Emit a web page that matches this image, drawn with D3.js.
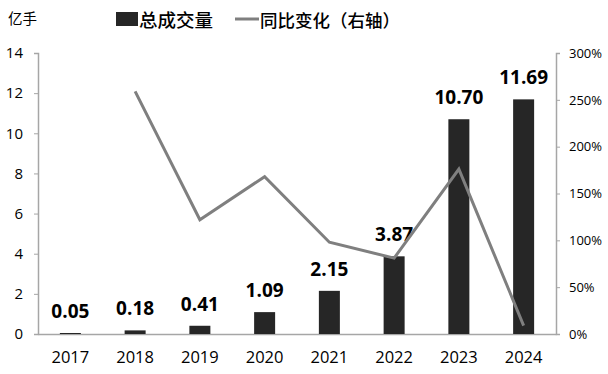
<!DOCTYPE html>
<html><head><meta charset="utf-8">
<script src="https://cdn.jsdelivr.net/npm/d3@7"></script>
<style>body{margin:0;background:#fff}svg{display:block}text{font-family:"Noto Sans CJK SC","Open Sans",sans-serif}</style>
</head><body><svg id="c" width="608" height="374"></svg>
<script>
const years = ["2017","2018","2019","2020","2021","2022","2023","2024"];
const volume = [0.05,0.18,0.41,1.09,2.15,3.87,10.70,11.69];
const yoy = [null,259,122,168,98,81,176,9];
const leftTicks = [0,2,4,6,8,10,12,14];
const rightTicks = [0,50,100,150,200,250,300];

const svg = d3.select("#c");
const L=38,R=556,T=53,B=334;
const x = d3.scaleBand().domain(years).range([L,R]);
const yL = d3.scaleLinear().domain([0,14]).range([B,T]);
const yR = d3.scaleLinear().domain([0,300]).range([B,T]);
const axisCol="#a6a6a6";
const num='"Open Sans",sans-serif';

const gl = svg.append("g").attr("transform",`translate(${L},0)`)
  .call(d3.axisLeft(yL).tickValues(leftTicks).tickSize(4).tickPadding(11));
const gr = svg.append("g").attr("transform",`translate(${R},0)`)
  .call(d3.axisRight(yR).tickValues(rightTicks).tickSize(4).tickPadding(9).tickFormat(d=>d+"%"));
const gb = svg.append("g").attr("transform",`translate(0,${B})`)
  .call(d3.axisBottom(x).tickSize(0).tickPadding(17));
[gl,gr,gb].forEach(g=>{g.select(".domain").attr("stroke",axisCol).attr("stroke-width",1.5);
  g.selectAll(".tick line").attr("stroke",axisCol).attr("stroke-width",1);
  g.selectAll("text").attr("fill","#000").style("font-family",num);});
gl.selectAll("text").style("font-size","15px");
gr.selectAll("text").style("font-size","13px");
gb.selectAll("text").style("font-size","16.5px");

const bw=21;
svg.append("g").selectAll("rect").data(volume).join("rect")
  .attr("x",(d,i)=>x(years[i])+x.bandwidth()/2-bw/2).attr("width",bw)
  .attr("y",d=>yL(d)).attr("height",d=>B-yL(d)).attr("fill","#262626");

svg.append("g").selectAll("text").data(volume).join("text")
  .attr("x",(d,i)=>x(years[i])+x.bandwidth()/2).attr("y",d=>yL(d)-15)
  .attr("text-anchor","middle").style("font-family",num).style("font-size","19px").style("font-weight","bold").attr("fill","#000")
  .text(d=>d.toFixed(2));

const line = d3.line().defined(d=>d!=null).x((d,i)=>x(years[i])+x.bandwidth()/2).y(d=>yR(d));
svg.append("path").datum(yoy).attr("d",line).attr("fill","none").attr("stroke","#7f7f7f").attr("stroke-width",3);

svg.append("text").attr("x",8).attr("y",24).style("font-size","14.5px").text("亿手");
svg.append("rect").attr("x",116).attr("y",12).attr("width",22).attr("height",14).attr("fill","#262626");
svg.append("text").attr("x",139).attr("y",27).style("font-size","18.5px").style("font-weight","500").text("总成交量");
svg.append("line").attr("x1",235).attr("x2",259).attr("y1",19).attr("y2",19).attr("stroke","#7f7f7f").attr("stroke-width",3);
svg.append("text").attr("x",260).attr("y",27).style("font-size","17.5px").style("font-weight","500").text("同比变化（右轴）");
</script></body></html>
